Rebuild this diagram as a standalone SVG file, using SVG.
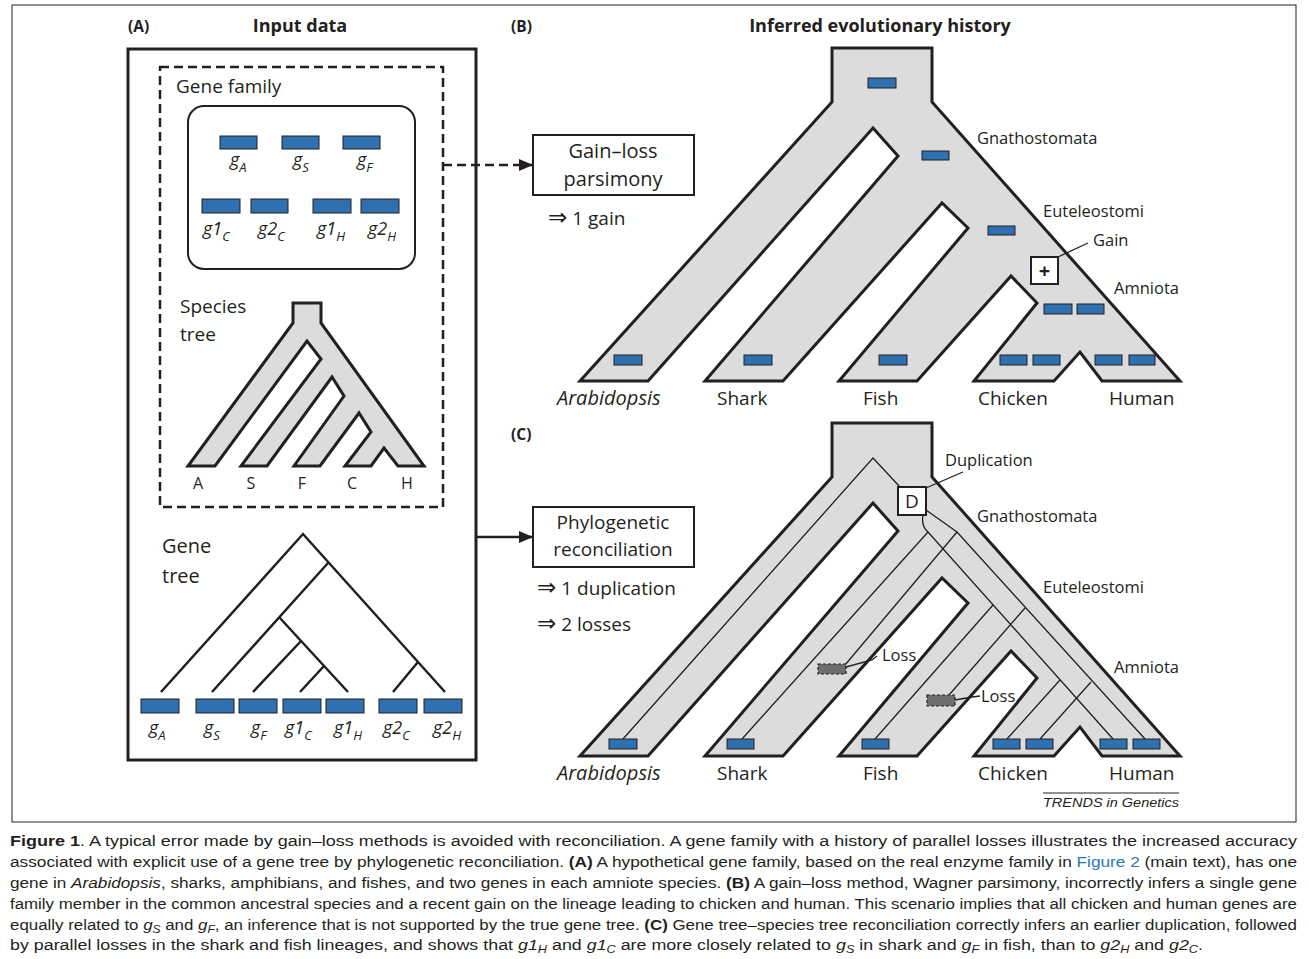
<svg xmlns="http://www.w3.org/2000/svg" width="1309" height="959" viewBox="0 0 1309 959">
<style>
.t{font-family:"Open Sans","DejaVu Sans",sans-serif;fill:#231f20}
.b{font-weight:bold}
.tree{fill:#dcdcdc;stroke:#231f20;stroke-width:3;stroke-linejoin:miter}
.gene{fill:#2f70b0;stroke:#231f20;stroke-width:1}
.loss{fill:#6e6e6e;stroke:#231f20;stroke-width:1.2;stroke-dasharray:3 2}
.gl{font-family:"Open Sans","DejaVu Sans",sans-serif;font-style:italic;font-size:18px;fill:#231f20}
.sub{font-size:13px}
.sp{font-size:19px}
.cl{font-size:16.5px}
.arr{font-size:23px}
.thin{fill:none;stroke:#231f20;stroke-width:1.3}
.thick{fill:none;stroke:#231f20;stroke-width:2.5}
.box{fill:#fff;stroke:#231f20;stroke-width:2}
.cap{font-family:"Liberation Sans",Arial,sans-serif;font-size:15.5px;fill:#231f20}
</style>
<defs>
<marker id="ah" markerUnits="userSpaceOnUse" markerWidth="14" markerHeight="12" refX="14" refY="6" orient="auto">
<path d="M0,0 L14,6 L0,12 Z" fill="#231f20"/>
</marker>
</defs>
<rect x="0" y="0" width="1309" height="959" fill="#fff"/>
<rect id="frame" x="12" y="5" width="1284" height="817" fill="none" stroke="#231f20" stroke-width="1"/>

<g id="headers" class="t">
<text x="128" y="32" class="b" font-size="15.5">(A)</text>
<text x="300" y="32" class="b" font-size="18" text-anchor="middle">Input data</text>
<text x="511" y="32" class="b" font-size="15.5">(B)</text>
<text x="880" y="32" class="b" font-size="18" text-anchor="middle">Inferred evolutionary history</text>
<text x="511" y="440" class="b" font-size="15.5">(C)</text>
</g>

<g id="panelA">
<rect id="inputBox" x="128" y="49" width="348" height="711" fill="none" stroke="#231f20" stroke-width="3"/>
<rect id="dashedBox" x="160" y="67" width="283" height="440" fill="none" stroke="#231f20" stroke-width="2.5" stroke-dasharray="9 5"/>
<text class="t" x="176" y="93" font-size="19">Gene family</text>
<rect id="familyBox" x="188" y="106" width="227" height="163" rx="16" fill="none" stroke="#231f20" stroke-width="2"/>
<g id="fam-gA"><rect class="gene" x="220" y="136" width="37" height="13"/><text class="gl" x="230" y="166">g<tspan class="sub" dy="6">A</tspan></text></g>
<g id="fam-gS"><rect class="gene" x="282" y="136" width="37" height="13"/><text class="gl" x="293" y="166">g<tspan class="sub" dy="6">S</tspan></text></g>
<g id="fam-gF"><rect class="gene" x="343" y="136" width="37" height="13"/><text class="gl" x="357" y="166">g<tspan class="sub" dy="6">F</tspan></text></g>
<g id="fam-g1C"><rect class="gene" x="202" y="199" width="38" height="14"/><text class="gl" x="203" y="235">g1<tspan class="sub" dy="6">C</tspan></text></g>
<g id="fam-g2C"><rect class="gene" x="251" y="199" width="37" height="14"/><text class="gl" x="258" y="235">g2<tspan class="sub" dy="6">C</tspan></text></g>
<g id="fam-g1H"><rect class="gene" x="313" y="199" width="38" height="14"/><text class="gl" x="317" y="235">g1<tspan class="sub" dy="6">H</tspan></text></g>
<g id="fam-g2H"><rect class="gene" x="361" y="199" width="38" height="14"/><text class="gl" x="368" y="235">g2<tspan class="sub" dy="6">H</tspan></text></g>

<g id="speciesTree">
<text class="t" x="180" y="313" font-size="19">Species</text>
<text class="t" x="180" y="341" font-size="19">tree</text>
<path class="tree" stroke-width="2.5" d="M293,303 L321,303 L321,323 L424,466 L398,466 L384,448 L371,466 L345,466 L371,432 L359,413 L320,466 L294,466 L344,396 L332,377 L267,466 L241,466 L321,359 L307,341 L215,466 L188,466 L293,323 Z"/>
<g class="t" font-size="16" text-anchor="middle">
<text x="198" y="489">A</text><text x="251" y="489">S</text><text x="302" y="489">F</text><text x="352" y="489">C</text><text x="407" y="489">H</text>
</g>
</g>

<g id="geneTree">
<text class="t" x="162" y="553" font-size="20">Gene</text>
<text class="t" x="162" y="583" font-size="20">tree</text>
<path class="thick" d="M161,692 L303,534 L445,692 M328,563 L212,692 M279,617 L348,692 M301,641 L253,692 M324,666 L300,692 M418,662 L393,692"/>
<g id="gt-gA"><rect class="gene" x="141" y="699" width="38" height="14"/><text class="gl" x="149" y="734">g<tspan class="sub" dy="6">A</tspan></text></g>
<g id="gt-gS"><rect class="gene" x="196" y="699" width="38" height="14"/><text class="gl" x="204" y="734">g<tspan class="sub" dy="6">S</tspan></text></g>
<g id="gt-gF"><rect class="gene" x="239" y="699" width="38" height="14"/><text class="gl" x="251" y="734">g<tspan class="sub" dy="6">F</tspan></text></g>
<g id="gt-g1C"><rect class="gene" x="283" y="699" width="38" height="14"/><text class="gl" x="285" y="734">g1<tspan class="sub" dy="6">C</tspan></text></g>
<g id="gt-g1H"><rect class="gene" x="326" y="699" width="38" height="14"/><text class="gl" x="334" y="734">g1<tspan class="sub" dy="6">H</tspan></text></g>
<g id="gt-g2C"><rect class="gene" x="379" y="699" width="38" height="14"/><text class="gl" x="383" y="734">g2<tspan class="sub" dy="6">C</tspan></text></g>
<g id="gt-g2H"><rect class="gene" x="424" y="699" width="38" height="14"/><text class="gl" x="433" y="734">g2<tspan class="sub" dy="6">H</tspan></text></g>
</g>
</g>

<g id="connectors">
<line x1="443" y1="165" x2="533" y2="165" stroke="#231f20" stroke-width="2.5" stroke-dasharray="9 5" marker-end="url(#ah)"/>
<line x1="476" y1="537" x2="533" y2="537" stroke="#231f20" stroke-width="2.5" marker-end="url(#ah)"/>
</g>

<g id="gainLossBox">
<rect class="box" x="533" y="135" width="161" height="60"/>
<text class="t" x="613" y="158" font-size="20" text-anchor="middle">Gain–loss</text>
<text class="t" x="613" y="186" font-size="20" text-anchor="middle">parsimony</text>
<text class="t" x="548" y="225" font-size="19"><tspan class="arr">⇒</tspan> 1 gain</text>
</g>

<g id="panelB">
<path class="tree" d="M832,48 L932,48 L932,102 L1180,381 L1102,381 L1080,352 L1054,381 L974,381 L1037,303 L1011,276 L917,381 L839,381 L968,228 L942,203 L783,381 L705,381 L898,156 L873,128 L648,381 L580,381 L832,102 Z"/>
<rect class="gene" x="868" y="78" width="28" height="10"/>
<rect class="gene" x="922" y="151" width="27" height="9"/>
<rect class="gene" x="988" y="226" width="27" height="9"/>
<rect class="gene" x="1044" y="304" width="28" height="10"/>
<rect class="gene" x="1077" y="304" width="27" height="10"/>
<rect class="gene" x="614" y="355" width="28" height="10"/>
<rect class="gene" x="744" y="355" width="28" height="10"/>
<rect class="gene" x="879" y="355" width="28" height="10"/>
<rect class="gene" x="1000" y="355" width="27" height="10"/>
<rect class="gene" x="1033" y="355" width="27" height="10"/>
<rect class="gene" x="1095" y="355" width="27" height="10"/>
<rect class="gene" x="1129" y="355" width="26" height="10"/>
<g id="gainEvent">
<line class="thin" x1="1058" y1="257" x2="1088" y2="243"/>
<rect class="box" x="1031" y="257" width="27" height="27"/>
<text class="t b" x="1044.5" y="278" font-size="20" text-anchor="middle">+</text>
<text class="t cl" x="1093" y="246">Gain</text>
</g>
<text class="t cl" x="977" y="144">Gnathostomata</text>
<text class="t cl" x="1043" y="217">Euteleostomi</text>
<text class="t cl" x="1114" y="294">Amniota</text>
<g class="t sp">
<text x="557" y="405" font-style="italic" font-size="20">Arabidopsis</text>
<text x="717" y="405">Shark</text>
<text x="863" y="405">Fish</text>
<text x="978" y="405">Chicken</text>
<text x="1109" y="405">Human</text>
</g>
</g>

<g id="reconBox">
<rect class="box" x="533" y="507" width="161" height="60"/>
<text class="t" x="613" y="529" font-size="19" text-anchor="middle">Phylogenetic</text>
<text class="t" x="613" y="556" font-size="19" text-anchor="middle">reconciliation</text>
<text class="t" x="537" y="595" font-size="19"><tspan class="arr">⇒</tspan> 1 duplication</text>
<text class="t" x="537" y="631" font-size="19"><tspan class="arr">⇒</tspan> 2 losses</text>
</g>

<g id="panelC">
<path class="tree" transform="translate(0,375)" d="M832,48 L932,48 L932,102 L1180,381 L1102,381 L1080,352 L1054,381 L974,381 L1037,303 L1011,276 L917,381 L839,381 L968,228 L942,203 L783,381 L705,381 L898,156 L873,128 L648,381 L580,381 L832,102 Z"/>
<g id="geneLineages">
<path class="thin" d="M623,739 L873,458 L900,487"/>
<path class="thin" d="M923,515 Q921,526 928,532 L1113,739"/>
<path class="thin" d="M926,510 L957,532 L1145,739"/>
<path class="thin" d="M928,532 L742,739"/>
<path class="thin" d="M957,532 L845,665"/>
<path class="thin" d="M993,605 L875,739"/>
<path class="thin" d="M1025,608 L949,695"/>
<path class="thin" d="M1060,680 L1007,739"/>
<path class="thin" d="M1091,682 L1040,739"/>
</g>
<rect class="gene" x="609" y="739" width="28" height="10"/>
<rect class="gene" x="727" y="739" width="27" height="10"/>
<rect class="gene" x="862" y="739" width="27" height="10"/>
<rect class="gene" x="993" y="739" width="27" height="10"/>
<rect class="gene" x="1026" y="739" width="27" height="10"/>
<rect class="gene" x="1100" y="739" width="27" height="10"/>
<rect class="gene" x="1133" y="739" width="27" height="10"/>
<g id="dupEvent">
<line class="thin" x1="926" y1="488" x2="963" y2="472"/>
<rect class="box" x="898" y="487" width="28" height="28"/>
<text class="t" x="912" y="508" font-size="19" text-anchor="middle">D</text>
<text class="t cl" x="945" y="466">Duplication</text>
</g>
<g id="loss1">
<path class="thin" d="M846,667 L872,660 L877,656"/>
<rect class="loss" x="818" y="664" width="28" height="10"/>
<text class="t cl" x="882" y="661">Loss</text>
</g>
<g id="loss2">
<path class="thin" d="M955,700 L972,697 L980,696"/>
<rect class="loss" x="927" y="695" width="28" height="11"/>
<text class="t cl" x="981" y="702">Loss</text>
</g>
<text class="t cl" x="977" y="522">Gnathostomata</text>
<text class="t cl" x="1043" y="593">Euteleostomi</text>
<text class="t cl" x="1114" y="673">Amniota</text>
<g class="t sp">
<text x="557" y="780" font-style="italic" font-size="20">Arabidopsis</text>
<text x="717" y="780">Shark</text>
<text x="863" y="780">Fish</text>
<text x="978" y="780">Chicken</text>
<text x="1109" y="780">Human</text>
</g>
</g>

<g id="credit">
<line x1="1043" y1="793" x2="1179" y2="793" stroke="#231f20" stroke-width="1"/>
<text x="1043" y="807" font-family="Liberation Sans, Arial, sans-serif" font-style="italic" font-size="13" fill="#231f20" textLength="136" lengthAdjust="spacingAndGlyphs">TRENDS in Genetics</text>
</g>

<g id="caption" class="cap">
<text x="10" y="846" textLength="1287" lengthAdjust="spacingAndGlyphs"><tspan font-weight="bold">Figure 1</tspan>. A typical error made by gain–loss methods is avoided with reconciliation. A gene family with a history of parallel losses illustrates the increased accuracy</text>
<text x="10" y="867" textLength="1287" lengthAdjust="spacingAndGlyphs">associated with explicit use of a gene tree by phylogenetic reconciliation. <tspan font-weight="bold">(A)</tspan> A hypothetical gene family, based on the real enzyme family in <tspan fill="#2a7ab9">Figure 2</tspan> (main text), has one</text>
<text x="10" y="888" textLength="1287" lengthAdjust="spacingAndGlyphs">gene in <tspan font-style="italic">Arabidopsis</tspan>, sharks, amphibians, and fishes, and two genes in each amniote species. <tspan font-weight="bold">(B)</tspan> A gain–loss method, Wagner parsimony, incorrectly infers a single gene</text>
<text x="10" y="909" textLength="1287" lengthAdjust="spacingAndGlyphs">family member in the common ancestral species and a recent gain on the lineage leading to chicken and human. This scenario implies that all chicken and human genes are</text>
<text x="10" y="930" textLength="1287" lengthAdjust="spacingAndGlyphs">equally related to <tspan font-style="italic">g</tspan><tspan font-style="italic" font-size="11" dy="3">S</tspan><tspan dy="-3"> and </tspan><tspan font-style="italic">g</tspan><tspan font-style="italic" font-size="11" dy="3">F</tspan><tspan dy="-3">, an inference that is not supported by the true gene tree. </tspan><tspan font-weight="bold">(C)</tspan> Gene tree–species tree reconciliation correctly infers an earlier duplication, followed</text>
<text x="10" y="950" textLength="1193" lengthAdjust="spacingAndGlyphs">by parallel losses in the shark and fish lineages, and shows that <tspan font-style="italic">g1</tspan><tspan font-style="italic" font-size="11" dy="3">H</tspan><tspan dy="-3"> and </tspan><tspan font-style="italic">g1</tspan><tspan font-style="italic" font-size="11" dy="3">C</tspan><tspan dy="-3"> are more closely related to </tspan><tspan font-style="italic">g</tspan><tspan font-style="italic" font-size="11" dy="3">S</tspan><tspan dy="-3"> in shark and </tspan><tspan font-style="italic">g</tspan><tspan font-style="italic" font-size="11" dy="3">F</tspan><tspan dy="-3"> in fish, than to </tspan><tspan font-style="italic">g2</tspan><tspan font-style="italic" font-size="11" dy="3">H</tspan><tspan dy="-3"> and </tspan><tspan font-style="italic">g2</tspan><tspan font-style="italic" font-size="11" dy="3">C</tspan><tspan dy="-3">.</tspan></text>
</g>
</svg>
